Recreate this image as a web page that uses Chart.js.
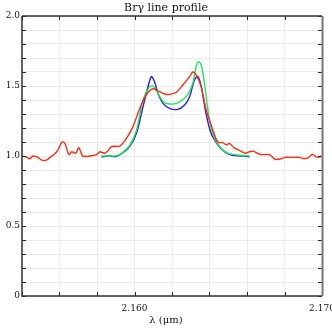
<!DOCTYPE html>
<html>
<head>
<meta charset="utf-8">
<script src="https://cdn.jsdelivr.net/npm/chart.js@4"></script>
<style>
  html, body { margin: 0; padding: 0; background: #fff; }
  canvas { display: block; }
</style>
</head>
<body>
<canvas id="profile" width="332" height="332"></canvas>
<script>
// --- data ---
const redLambda = [2.1540, 2.15427, 2.15443, 2.15459, 2.15485, 2.15506, 2.15530, 2.15549, 2.15570, 2.15591, 2.15613, 2.15629, 2.15650, 2.15666, 2.15687, 2.15703, 2.15724, 2.15762, 2.15799, 2.15815, 2.15841, 2.15860, 2.15877, 2.15900, 2.15921, 2.15957, 2.15992, 2.16028, 2.16063, 2.16098, 2.16134, 2.16161, 2.16190, 2.16223, 2.16258, 2.16294, 2.16311, 2.16329, 2.16356, 2.16382, 2.16418, 2.16444, 2.16471, 2.16490, 2.16506, 2.16530, 2.16560, 2.16590, 2.16613, 2.16634, 2.16655, 2.16677, 2.16719, 2.16751, 2.16780, 2.16804, 2.16840, 2.16879, 2.16905, 2.16930, 2.16948, 2.16974, 2.16996];
const redFlux   = [1.00, 0.99, 0.98, 1.00, 0.99, 0.97, 0.97, 0.99, 1.01, 1.04, 1.10, 1.09, 1.01, 1.03, 1.02, 1.06, 1.00, 1.00, 1.01, 1.03, 1.02, 1.04, 1.067, 1.07, 1.07, 1.126, 1.21, 1.34, 1.436, 1.48, 1.46, 1.443, 1.44, 1.455, 1.507, 1.567, 1.60, 1.58, 1.495, 1.33, 1.186, 1.10, 1.095, 1.08, 1.09, 1.06, 1.04, 1.02, 1.03, 1.035, 1.02, 1.01, 1.01, 0.976, 0.98, 0.99, 0.99, 0.99, 0.98, 0.99, 1.012, 0.99, 1.00];

const greenLambda = [2.15824, 2.15868, 2.15895, 2.15921, 2.15974, 2.16010, 2.16045, 2.16081, 2.16098, 2.16125, 2.16152, 2.16187, 2.16231, 2.16276, 2.16311, 2.16329, 2.16341, 2.16356, 2.16373, 2.16400, 2.16427, 2.16462, 2.16497, 2.16530, 2.16560, 2.16613];
const greenFlux   = [1.00, 1.00, 1.00, 1.01, 1.075, 1.18, 1.40, 1.495, 1.50, 1.448, 1.39, 1.371, 1.38, 1.424, 1.52, 1.64, 1.674, 1.65, 1.52, 1.257, 1.126, 1.055, 1.02, 1.01, 1.005, 1.00];

const blueLambda = [2.15824, 2.15868, 2.15895, 2.15921, 2.15974, 2.16010, 2.16045, 2.16072, 2.16090, 2.16107, 2.16125, 2.16152, 2.16187, 2.16231, 2.16267, 2.16294, 2.16320, 2.16338, 2.16356, 2.16382, 2.16409, 2.16444, 2.16480, 2.16517, 2.16560, 2.16586, 2.16613];
const blueFlux   = [0.995, 1.00, 0.995, 1.007, 1.067, 1.16, 1.35, 1.495, 1.567, 1.53, 1.448, 1.376, 1.34, 1.333, 1.364, 1.424, 1.543, 1.567, 1.495, 1.30, 1.16, 1.08, 1.03, 1.007, 1.00, 1.00, 0.995];

const xTickValues = [2.160, 2.170];
const xTickLabels = ['2.160', '2.170'];
const yTickValues = [0, 0.5, 1.0, 1.5, 2.0];
const yTickLabels = ['0', '0.5', '1.0', '1.5', '2.0'];

const toPoints = (xs, ys) => xs.map((x, i) => ({ x: x, y: ys[i] }));

const FONT = '"DejaVu Serif", serif';

// frame, inward ticks, labels and titles drawn on top of the chart area
const framePlugin = {
    id: 'frame',
    afterDraw(chart) {
        const { ctx, chartArea: a, scales } = chart;
        const xs = scales.x, ys = scales.y;
        ctx.save();

        // ticks
        ctx.strokeStyle = '#222';
        ctx.lineWidth = 1;
        ctx.beginPath();
        xs.ticks.forEach(t => {
            const px = Math.round(xs.getPixelForValue(t.value)) + 0.5;
            ctx.moveTo(px, a.bottom); ctx.lineTo(px, a.bottom - 4);
            ctx.moveTo(px, a.top); ctx.lineTo(px, a.top + 4);
        });
        ys.ticks.forEach(t => {
            const py = Math.round(ys.getPixelForValue(t.value)) + 0.5;
            ctx.moveTo(a.left, py); ctx.lineTo(a.left + 4, py);
            ctx.moveTo(a.right, py); ctx.lineTo(a.right - 4, py);
        });
        ctx.stroke();

        // frame
        ctx.strokeStyle = '#333';
        ctx.lineWidth = 1.5;
        ctx.beginPath();
        ctx.moveTo(a.left, a.top); ctx.lineTo(a.right, a.top);
        ctx.moveTo(a.left, a.top); ctx.lineTo(a.left, a.bottom);
        ctx.lineTo(a.right, a.bottom);
        ctx.stroke();
        ctx.strokeStyle = '#777';
        ctx.lineWidth = 2;
        ctx.beginPath();
        ctx.moveTo(a.right + 0.5, a.top); ctx.lineTo(a.right + 0.5, a.bottom);
        ctx.stroke();

        // tick labels
        ctx.fillStyle = '#111';
        ctx.font = '9px ' + FONT;
        ctx.textAlign = 'center';
        ctx.textBaseline = 'top';
        xTickValues.forEach((v, i) => {
            ctx.fillText(xTickLabels[i], xs.getPixelForValue(v), a.bottom + 8);
        });
        ctx.textAlign = 'right';
        ctx.textBaseline = 'middle';
        yTickValues.forEach((v, i) => {
            ctx.fillText(yTickLabels[i], a.left - 2, ys.getPixelForValue(v));
        });

        // titles
        ctx.textAlign = 'center';
        ctx.font = '11px ' + FONT;
        ctx.textBaseline = 'middle';
        ctx.fillText('Br\u03B3 line profile', 166, 8);
        ctx.font = '10px ' + FONT;
        ctx.fillText('\u03BB (\u03BCm)', 166, 320);
        ctx.restore();
    }
};

const lineStyle = (color) => ({
    borderColor: color,
    backgroundColor: color,
    borderWidth: 1.4,
    pointRadius: 0,
    tension: 0.3,
    fill: false
});

new Chart(document.getElementById('profile'), {
    type: 'line',
    data: {
        datasets: [
            { label: 'red', data: toPoints(redLambda, redFlux), ...lineStyle('#ff2a14') },
            { label: 'green', data: toPoints(greenLambda, greenFlux), ...lineStyle('#1ee65a') },
            { label: 'blue', data: toPoints(blueLambda, blueFlux), ...lineStyle('#2a1ee6') }
        ]
    },
    options: {
        responsive: false,
        animation: false,
        layout: { padding: { left: 22, right: 10, top: 16, bottom: 36 } },
        plugins: { legend: { display: false }, tooltip: { enabled: false } },
        scales: {
            x: {
                type: 'linear',
                min: 2.154,
                max: 2.170,
                ticks: { display: false, stepSize: 0.002 },
                grid: { color: '#ebebeb', drawTicks: false },
                border: { display: false }
            },
            y: {
                min: 0,
                max: 2.0,
                ticks: { display: false, stepSize: 0.1 },
                grid: { color: '#ebebeb', drawTicks: false },
                border: { display: false }
            }
        }
    },
    plugins: [framePlugin]
});
</script>
</body>
</html>
